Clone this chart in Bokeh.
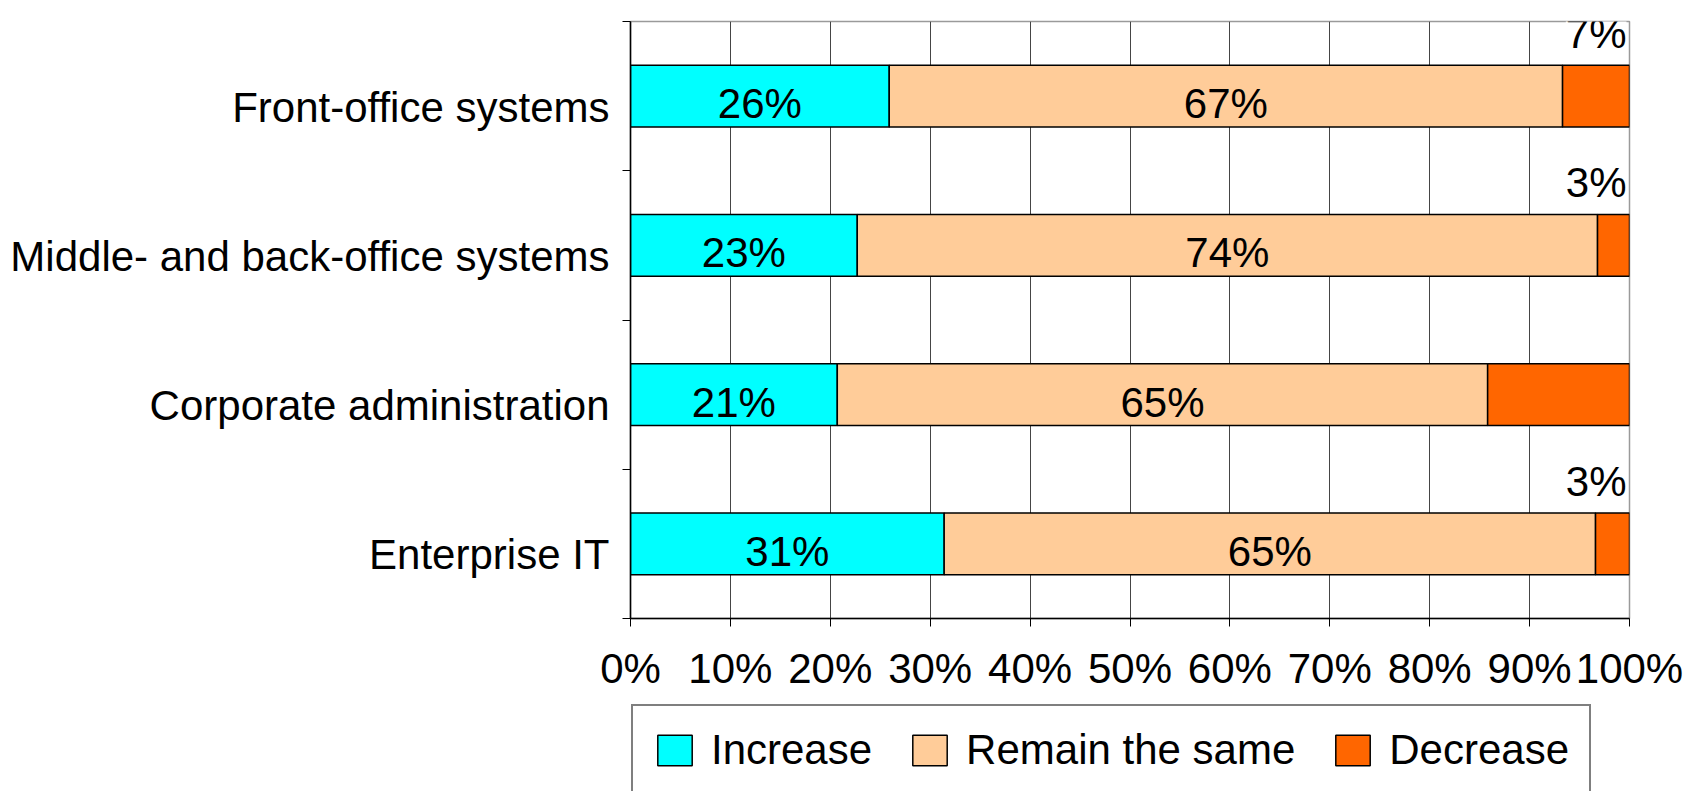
from bokeh.plotting import figure
from bokeh.layouts import column
from bokeh.models import (Range1d, LinearAxis, FixedTicker, ColumnDataSource,
                          LabelSet, Legend, LegendItem, Grid)
from bokeh.core.properties import value
from bokeh.embed import file_html
from bokeh.resources import INLINE

# ---------------- data ----------------
categories = ["Front-office systems", "Middle- and back-office systems",
              "Corporate administration", "Enterprise IT"]
series = ["Increase", "Remain the same", "Decrease"]
increase = [25.9, 22.7, 20.7, 31.4]
remain = [67.4, 74.1, 65.1, 65.2]
decrease = [6.7, 3.2, 14.2, 3.4]
decrease_labelled = [True, True, False, True]
x_ticks = [0, 10, 20, 30, 40, 50, 60, 70, 80, 90, 100]
x_tick_labels = ["0%", "10%", "20%", "30%", "40%", "50%", "60%", "70%", "80%", "90%", "100%"]
colors = ["#00FFFF", "#FFCC99", "#FF6600"]

FONT = "Liberation Sans"
FS = "42px"

n = len(categories)
# band centre of each category (first category at the top)
ycat = [n - i - 0.5 for i in range(n)]

# ---------------- main chart ----------------
p = figure(width=1699, height=698, output_backend="svg", toolbar_location=None,
           y_range=Range1d(0, n), x_range=Range1d(0, 100),
           x_axis_location=None, y_axis_location=None,
           min_border_left=630, min_border_right=70, min_border_top=21, min_border_bottom=80)
p.xgrid.visible = False
p.ygrid.visible = False
p.outline_line_color = "#9a9a9a"
p.outline_line_width = 1.5
p.background_fill_color = "white"
p.border_fill_color = "white"

src = ColumnDataSource(dict(y=ycat, inc=increase, rem=remain, dec=decrease))
p.hbar_stack(["inc", "rem", "dec"], y="y", height=0.413, color=colors,
             line_color="black", line_width=1.5, source=src)

# vertical grid lines
grid = Grid(dimension=0, ticker=FixedTicker(ticks=x_ticks), grid_line_color="#454545",
            grid_line_width=1)
p.add_layout(grid)

# y axis: labels at band centres, ticks at band edges
ylab_shift = 0.074
ypos = [y - ylab_shift for y in ycat]
yax = LinearAxis(ticker=FixedTicker(ticks=ypos, minor_ticks=list(range(n + 1))),
                 major_label_overrides={y: c for y, c in zip(ypos, categories)},
                 major_tick_out=0, major_tick_in=0, minor_tick_out=8, minor_tick_in=0,
                 minor_tick_line_color="black", axis_line_color="black", axis_line_width=1.5,
                 major_label_standoff=13, major_label_text_font=FONT,
                 major_label_text_font_size=FS, major_label_text_color="black")
p.add_layout(yax, "left")

# x axis
xax = LinearAxis(ticker=FixedTicker(ticks=x_ticks),
                 major_label_overrides={x: l for x, l in zip(x_ticks, x_tick_labels)},
                 major_tick_out=8, major_tick_in=0, minor_tick_out=0, minor_tick_in=0,
                 major_tick_line_color="black", axis_line_color="black", axis_line_width=1.5,
                 major_label_standoff=18, major_label_text_font=FONT,
                 major_label_text_font_size=FS, major_label_text_color="black")
p.add_layout(xax, "below")

# data labels inside the bars
lab_x, lab_y, lab_t = [], [], []
for y, a, b in zip(ycat, increase, remain):
    lab_x += [a / 2, a + b / 2]
    lab_y += [y, y]
    lab_t += [f"{round(a)}%", f"{round(b)}%"]
inside = ColumnDataSource(dict(x=lab_x, y=lab_y, t=lab_t))
p.add_layout(LabelSet(x="x", y="y", text="t", source=inside, text_align="center",
                      text_baseline="alphabetic", y_offset=-22, text_font=value(FONT),
                      text_font_size=value(FS), text_color="black"))

# labels of the small "Decrease" segments, above the bar end
dx, dy, dt = [], [], []
for y, a, b, d, show in zip(ycat, increase, remain, decrease, decrease_labelled):
    if show:
        dx.append(a + b + d)
        dy.append(y)
        dt.append(f"{round(d)}%")
outside = ColumnDataSource(dict(x=dx, y=dy, t=dt))
p.add_layout(LabelSet(x="x", y="y", text="t", source=outside, text_align="right",
                      text_baseline="alphabetic", x_offset=-3, y_offset=48,
                      text_font=value(FONT), text_font_size=value(FS), text_color="black",
                      background_fill_color="white"))

# ---------------- legend strip ----------------
q = figure(width=1699, height=93, output_backend="svg", toolbar_location=None,
           x_range=Range1d(0, 100), y_range=Range1d(n + 10, n + 11),
           x_axis_location=None, y_axis_location=None,
           min_border=0, min_border_left=0, min_border_right=0,
           min_border_top=0, min_border_bottom=0)
q.xgrid.visible = False
q.ygrid.visible = False
q.outline_line_color = None
q.background_fill_color = "white"
q.border_fill_color = "white"
# same series, kept hidden: they only supply the legend swatches
proxies = q.hbar_stack(["inc", "rem", "dec"], y="y", height=0.413, color=colors,
                       line_color="black", line_width=1.5, source=src, visible=False)

legend = Legend(items=[LegendItem(label=s, renderers=[r]) for s, r in zip(series, proxies)],
                orientation="horizontal", location=(1, -5), padding=20, spacing=36,
                margin=0, glyph_width=43, glyph_height=38, label_standoff=15,
                label_text_font=FONT, label_text_font_size=FS, label_text_color="black",
                border_line_color="black", border_line_width=2, background_fill_color="white",
                background_fill_alpha=1, click_policy="none")
q.add_layout(legend, "center")

layout = column(p, q, spacing=0)
open("out.html", "w").write(file_html(layout, INLINE))
